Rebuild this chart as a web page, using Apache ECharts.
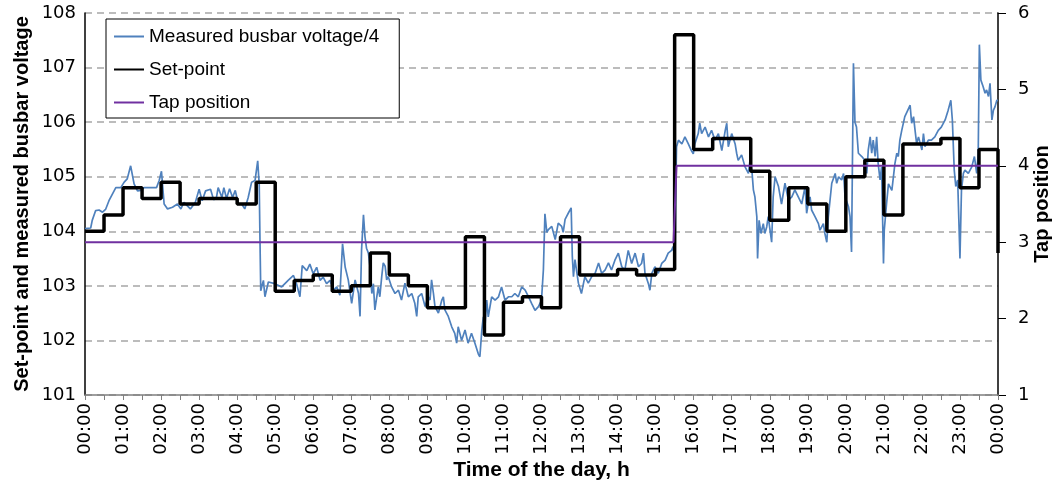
<!DOCTYPE html>
<html>
<head>
<meta charset="utf-8">
<script src="https://cdn.jsdelivr.net/npm/echarts@6/dist/echarts.min.js"></script>
<style>
  html, body { margin: 0; padding: 0; background: #fff; }
  #chart { width: 1054px; height: 485px; }
</style>
</head>
<body>
<div id="chart"></div>
<script>
// measured busbar voltage / 4 (hours, kV)
const measuredHours = [
  0.00, 0.15, 0.19, 0.28, 0.37, 0.46, 0.54, 0.63, 0.72, 0.81, 0.94, 1.03, 1.11, 1.20, 1.29, 1.38,
  1.47, 1.55, 1.73, 1.88, 1.95, 2.01, 2.08, 2.17, 2.30, 2.43, 2.52, 2.60, 2.77, 2.90, 3.00, 3.08,
  3.17, 3.30, 3.38, 3.45, 3.50, 3.60, 3.65, 3.72, 3.80, 3.88, 3.95, 4.03, 4.12, 4.20, 4.29, 4.38,
  4.47, 4.54, 4.58, 4.60, 4.62, 4.69, 4.73, 4.82, 4.99, 5.17, 5.34, 5.48, 5.56, 5.65, 5.71, 5.83,
  5.91, 6.00, 6.09, 6.18, 6.26, 6.35, 6.44, 6.53, 6.62, 6.70, 6.77, 6.84, 6.92, 7.01, 7.10, 7.19,
  7.23, 7.27, 7.32, 7.36, 7.40, 7.45, 7.49, 7.54, 7.58, 7.62, 7.67, 7.71, 7.75, 7.80, 7.84, 7.89,
  7.93, 7.97, 8.06, 8.15, 8.24, 8.32, 8.41, 8.50, 8.59, 8.67, 8.72, 8.76, 8.85, 8.94, 9.02, 9.07,
  9.11, 9.16, 9.20, 9.29, 9.38, 9.42, 9.46, 9.55, 9.64, 9.72, 9.77, 9.81, 9.90, 9.99, 10.07, 10.16,
  10.25, 10.34, 10.38, 10.43, 10.47, 10.52, 10.56, 10.60, 10.69, 10.78, 10.87, 10.95, 11.04, 11.13, 11.22, 11.30,
  11.39, 11.48, 11.57, 11.66, 11.74, 11.83, 11.92, 12.00, 12.05, 12.09, 12.14, 12.18, 12.27, 12.36, 12.44, 12.53,
  12.57, 12.62, 12.71, 12.78, 12.81, 12.84, 12.88, 12.97, 13.05, 13.14, 13.23, 13.32, 13.41, 13.50, 13.58, 13.67,
  13.76, 13.84, 13.93, 14.02, 14.11, 14.19, 14.28, 14.37, 14.46, 14.55, 14.63, 14.68, 14.72, 14.81, 14.85, 14.90,
  14.98, 15.07, 15.16, 15.25, 15.33, 15.42, 15.46, 15.51, 15.53, 15.55, 15.60, 15.69, 15.77, 15.86, 15.94, 15.99,
  16.03, 16.12, 16.16, 16.21, 16.30, 16.39, 16.47, 16.56, 16.65, 16.74, 16.83, 16.87, 16.91, 17.00, 17.09, 17.13,
  17.17, 17.26, 17.35, 17.44, 17.48, 17.53, 17.57, 17.61, 17.66, 17.68, 17.72, 17.77, 17.83, 17.87, 17.92, 17.96,
  18.05, 18.09, 18.14, 18.23, 18.31, 18.40, 18.49, 18.58, 18.66, 18.75, 18.84, 18.93, 18.97, 19.01, 19.06, 19.10,
  19.19, 19.28, 19.32, 19.41, 19.45, 19.50, 19.54, 19.63, 19.72, 19.76, 19.81, 19.89, 19.94, 19.98, 20.07, 20.11,
  20.15, 20.20, 20.24, 20.28, 20.33, 20.42, 20.50, 20.55, 20.59, 20.64, 20.68, 20.72, 20.77, 20.81, 20.85, 20.90,
  20.94, 20.99, 21.01, 21.07, 21.12, 21.21, 21.29, 21.34, 21.38, 21.42, 21.47, 21.55, 21.63, 21.69, 21.73, 21.78,
  21.82, 21.86, 21.91, 22.00, 22.04, 22.08, 22.17, 22.25, 22.34, 22.43, 22.51, 22.61, 22.69, 22.76, 22.80, 22.85,
  22.89, 22.94, 23.00, 23.04, 23.09, 23.13, 23.22, 23.31, 23.38, 23.44, 23.48, 23.51, 23.55, 23.61, 23.66, 23.70,
  23.75, 23.79, 23.84, 23.88, 23.92, 23.97, 24.00
];
const measuredVolts = [
  104.05, 104.06, 104.20, 104.38, 104.39, 104.35, 104.40, 104.56, 104.68, 104.80, 104.80, 104.90, 104.96, 105.20, 104.87, 104.74,
  104.75, 104.80, 104.80, 104.80, 104.93, 105.10, 104.50, 104.41, 104.44, 104.50, 104.41, 104.53, 104.41, 104.53, 104.77, 104.56,
  104.74, 104.77, 104.58, 104.60, 104.80, 104.62, 104.80, 104.60, 104.78, 104.62, 104.75, 104.50, 104.50, 104.41, 104.62, 104.90,
  104.93, 105.29, 104.85, 103.83, 102.91, 103.10, 102.80, 103.07, 103.04, 102.98, 103.10, 103.19, 103.04, 102.80, 103.37, 103.28,
  103.40, 103.22, 103.34, 103.10, 103.16, 103.04, 103.10, 102.92, 102.98, 102.83, 103.77, 103.34, 103.11, 102.68, 103.11, 102.86,
  102.44, 103.66, 104.30, 103.90, 103.69, 103.60, 103.36, 102.86, 103.04, 102.56, 102.80, 102.98, 102.80, 103.17, 103.42, 103.36,
  103.11, 103.17, 102.98, 102.86, 102.92, 102.74, 103.05, 102.80, 102.86, 102.68, 102.44, 102.80, 102.86, 102.62, 102.80, 102.74,
  103.11, 102.86, 102.62, 102.50, 102.74, 102.80, 102.56, 102.44, 102.25, 102.13, 101.95, 102.25, 102.00, 102.19, 101.95, 102.13,
  101.95, 101.75, 101.70, 102.18, 102.43, 102.31, 102.74, 102.43, 102.80, 102.74, 102.80, 102.98, 102.74, 102.80, 102.80, 102.86,
  102.80, 102.98, 102.92, 102.80, 102.68, 102.55, 102.62, 102.74, 103.30, 104.32, 103.98, 104.03, 104.09, 103.85, 104.15, 104.09,
  103.98, 104.22, 104.34, 104.43, 103.54, 103.17, 103.48, 103.05, 102.86, 103.17, 103.05, 103.17, 103.23, 103.42, 103.23, 103.29,
  103.42, 103.29, 103.47, 103.60, 103.35, 103.29, 103.65, 103.41, 103.60, 103.35, 103.41, 103.60, 103.23, 103.04, 102.92, 103.23,
  103.35, 103.23, 103.41, 103.47, 103.60, 103.65, 103.72, 103.47, 104.80, 105.55, 105.67, 105.60, 105.73, 105.60, 105.48, 105.42,
  105.60, 105.79, 105.98, 105.79, 105.91, 105.73, 105.85, 105.67, 105.79, 105.48, 105.85, 105.98, 105.55, 105.79, 105.60, 105.43,
  105.30, 105.40, 105.18, 105.06, 105.30, 105.12, 104.76, 104.63, 104.27, 103.50, 104.20, 103.96, 104.14, 103.96, 104.08, 104.27,
  103.80, 104.63, 105.00, 104.82, 104.50, 104.88, 104.57, 104.63, 104.76, 104.63, 104.50, 104.82, 104.33, 104.50, 104.63, 104.39,
  104.27, 104.14, 104.02, 104.14, 103.96, 103.80, 104.27, 104.88, 105.06, 104.88, 105.00, 104.94, 105.06, 104.63, 104.45, 104.27,
  103.62, 107.08, 106.00, 105.91, 105.43, 105.37, 105.30, 105.06, 105.49, 105.73, 105.43, 105.67, 105.37, 105.73, 105.24, 104.94,
  105.18, 103.41, 104.02, 104.50, 104.87, 104.75, 105.24, 105.43, 105.37, 105.67, 105.85, 106.10, 106.22, 106.31, 105.98, 106.10,
  105.85, 105.61, 105.73, 105.49, 105.79, 105.55, 105.67, 105.67, 105.73, 105.85, 105.91, 106.04, 106.22, 106.40, 106.04, 105.12,
  104.82, 104.94, 103.50, 104.76, 105.06, 105.12, 105.06, 105.18, 105.37, 105.06, 105.43, 107.42, 106.77, 106.65, 106.53, 106.59,
  106.47, 106.71, 106.04, 106.22, 106.28, 106.40, 106.40
];

// set-point, held for each half hour (step changes)
const setpointHours = [
  0, 0.5, 1, 1.5, 2, 2.5, 3, 3.5, 4, 4.5, 5, 5.5, 6, 6.5, 7, 7.5, 8, 8.5, 9, 9.5, 10, 10.5, 11, 11.5,
  12, 12.5, 13, 13.5, 14, 14.5, 15, 15.5, 16, 16.5, 17, 17.5, 18, 18.5, 19, 19.5, 20, 20.5, 21, 21.5,
  22, 22.5, 23, 23.5, 24
];
const setpointVolts = [
  104.0, 104.3, 104.8, 104.6, 104.9, 104.5, 104.6, 104.6, 104.5, 104.9, 102.9, 103.1, 103.2, 102.9, 103.0, 103.6,
  103.2, 103.0, 102.6, 102.6, 103.9, 102.1, 102.7, 102.8, 102.6, 103.9, 103.2, 103.2, 103.3, 103.2, 103.3, 107.6,
  105.5, 105.7, 105.7, 105.1, 104.2, 104.8, 104.5, 104.0, 105.0, 105.3, 104.3, 105.6, 105.6, 105.7, 104.8, 105.5,
  103.6
];

// tap position
const tapHours = [0, 15.47, 15.55, 24];
const tapValues = [3, 3, 4, 4];

const leftTicks = [101, 108];   // min, max of left axis
const rightTicks = [1, 6];      // min, max of right axis

const zip = (xs, ys) => xs.map((x, i) => [x, ys[i]]);

const fontFamily = '"Liberation Sans", Arial, sans-serif';
const tickFont = '"DejaVu Sans", sans-serif';

const chart = echarts.init(document.getElementById('chart'), null, { renderer: 'canvas' });

const option = {
  animation: false,
  textStyle: { fontFamily },
  grid: { left: 85, right: 56, top: 13, bottom: 90, containLabel: false, outerBoundsMode: 'none' },
  legend: {
    orient: 'vertical',
    left: 106,
    top: 19,
    padding: [8, 20, 6, 7],
    itemWidth: 30,
    itemHeight: 14,
    itemGap: 14,
    backgroundColor: '#fff',
    borderColor: '#000',
    borderWidth: 1,
    itemStyle: { opacity: 0 },
    textStyle: { fontSize: 19, color: '#000', fontFamily },
    data: ['Measured busbar voltage/4', 'Set-point', 'Tap position']
  },
  xAxis: {
    type: 'value',
    min: 0,
    max: 24,
    interval: 1,
    name: 'Time of the day, h',
    nameLocation: 'middle',
    nameGap: 65,
    nameMoveOverlap: false,
    nameTextStyle: { fontSize: 21, fontWeight: 'bold', color: '#000' },
    axisLine: { lineStyle: { color: '#7f7f7f', width: 1.5 } },
    axisTick: { show: true, length: 5, lineStyle: { color: '#7f7f7f' } },
    minorTick: { show: true, splitNumber: 2, length: 5, lineStyle: { color: '#7f7f7f' } },
    splitLine: { show: false },
    axisLabel: {
      rotate: 90,
      margin: 8,
      fontSize: 18,
      fontFamily: tickFont,
      color: '#000',
      formatter: v => String(Math.round(v) % 24).padStart(2, '0') + ':00'
    }
  },
  yAxis: [
    {
      type: 'value',
      min: leftTicks[0],
      max: leftTicks[1],
      interval: 1,
      name: 'Set-point and measured busbar voltage',
      nameLocation: 'middle',
      nameRotate: 90,
      nameGap: 53,
      nameMoveOverlap: false,
      nameTextStyle: { fontSize: 20, fontWeight: 'bold', color: '#000' },
      axisLine: { show: true, lineStyle: { color: '#000', width: 1.5 } },
      axisTick: { show: false },
      axisLabel: { fontSize: 18, fontFamily: tickFont, color: '#000', margin: 9 },
      splitLine: { show: true, lineStyle: { color: '#a6a6a6', type: [7, 5], width: 1.5 } }
    },
    {
      type: 'value',
      position: 'right',
      min: rightTicks[0],
      max: rightTicks[1],
      interval: 1,
      name: 'Tap position',
      nameLocation: 'middle',
      nameRotate: 90,
      nameGap: 34,
      nameMoveOverlap: false,
      nameTextStyle: { fontSize: 20, fontWeight: 'bold', color: '#000' },
      axisLine: { show: true, lineStyle: { color: '#000', width: 1.5 } },
      axisTick: { show: true, inside: false, length: 8, lineStyle: { color: '#000' } },
      axisLabel: { fontSize: 18, fontFamily: tickFont, color: '#000', margin: 20 },
      splitLine: { show: false }
    }
  ],
  series: [
    {
      name: 'Measured busbar voltage/4',
      type: 'line',
      yAxisIndex: 0,
      symbol: 'none',
      data: zip(measuredHours, measuredVolts),
      lineStyle: { color: '#4f81bd', width: 1.7 },
      itemStyle: { color: '#4f81bd' }
    },
    {
      name: 'Set-point',
      type: 'line',
      yAxisIndex: 0,
      step: 'end',
      symbol: 'none',
      data: zip(setpointHours, setpointVolts),
      lineStyle: { color: '#000', width: 3.5 },
      itemStyle: { color: '#000' }
    },
    {
      name: 'Tap position',
      type: 'line',
      yAxisIndex: 1,
      symbol: 'none',
      data: zip(tapHours, tapValues),
      lineStyle: { color: '#7030a0', width: 2 },
      itemStyle: { color: '#7030a0' }
    }
  ]
};

chart.setOption(option);
</script>
</body>
</html>
